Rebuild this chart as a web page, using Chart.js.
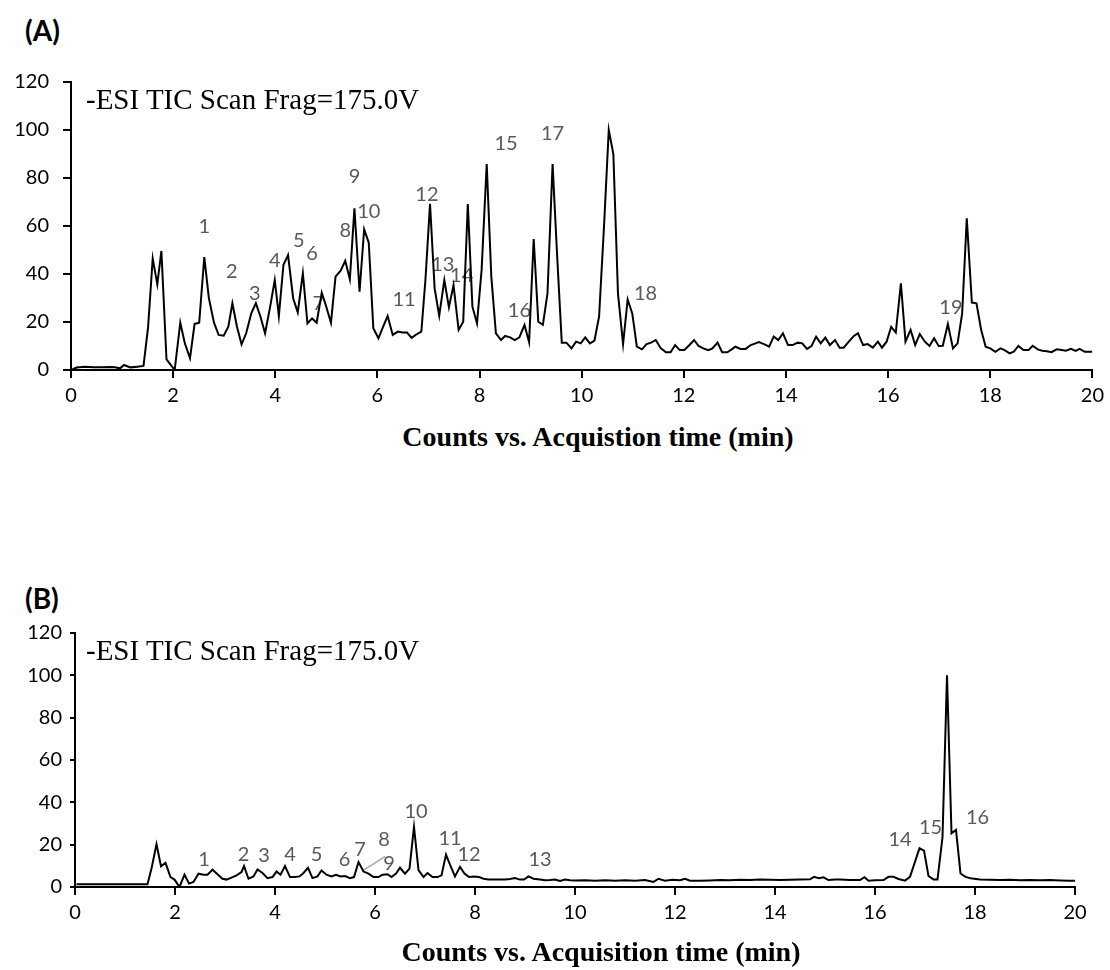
<!DOCTYPE html>
<html>
<head>
<meta charset="utf-8">
<script src="https://cdn.jsdelivr.net/npm/chart.js@4.4.1/dist/chart.umd.min.js"></script>
<style>
  body { margin: 0; background: #fff; width: 1110px; height: 970px; position: relative; overflow: hidden; }
  .box { position: absolute; left: 0; width: 1110px; }
  .panel { position: absolute; font: bold 28px Lato, sans-serif; line-height: 28px; color: #000; }
  .scan { position: absolute; font: 29px "Liberation Serif", serif; line-height: 29px; color: #000; white-space: nowrap; }
  .xtitle { position: absolute; font: bold 28px "Liberation Serif", serif; line-height: 28px; text-align: center; white-space: nowrap; }
</style>
</head>
<body>
<div class="panel" style="left:25px; top:16px;">(A)</div>
<div class="box" style="top:0; height:420px;"><canvas id="chartA"></canvas></div>
<div class="scan" style="left:86px; top:85px;">-ESI TIC Scan Frag=175.0V</div>
<div class="xtitle" style="left:298px; width:600px; top:423px;">Counts vs. Acquistion time (min)</div>

<div class="panel" style="left:25px; top:584px;">(B)</div>
<div class="box" style="top:520px; height:420px;"><canvas id="chartB"></canvas></div>
<div class="scan" style="left:86px; top:636px;">-ESI TIC Scan Frag=175.0V</div>
<div class="xtitle" style="left:301px; width:600px; top:938px;">Counts vs. Acquisition time (min)</div>

<script>
// panel A: retention time (min) and relative counts
var timeA = [0, 0.11, 0.27, 0.44, 0.6, 0.76, 0.86, 0.96, 1.04, 1.16, 1.3, 1.42, 1.51, 1.6, 1.69, 1.77, 1.87, 2.03,
  2.14, 2.23, 2.33, 2.42, 2.51, 2.61, 2.7, 2.8, 2.89, 2.99, 3.08, 3.16, 3.25, 3.34, 3.43, 3.53, 3.62, 3.71, 3.8,
  3.9, 3.99, 4.07, 4.16, 4.25, 4.35, 4.44, 4.54, 4.63, 4.72, 4.81, 4.91, 4.99, 5.09, 5.18, 5.28, 5.37, 5.46, 5.55,
  5.65, 5.74, 5.83, 5.92, 6.02, 6.11, 6.2, 6.3, 6.4, 6.49, 6.58, 6.67, 6.76, 6.86, 6.94, 7.03, 7.12, 7.21, 7.31,
  7.4, 7.49, 7.59, 7.68, 7.77, 7.86, 7.95, 8.04, 8.14, 8.23, 8.32, 8.42, 8.5, 8.6, 8.69, 8.78, 8.88, 8.97, 9.06,
  9.15, 9.24, 9.33, 9.43, 9.52, 9.61, 9.7, 9.8, 9.89, 9.98, 10.07, 10.16, 10.25, 10.34, 10.44, 10.53, 10.62, 10.71,
  10.81, 10.9, 10.99, 11.08, 11.18, 11.27, 11.36, 11.45, 11.55, 11.65, 11.74, 11.83, 11.92, 12.01, 12.11, 12.2,
  12.29, 12.38, 12.48, 12.56, 12.66, 12.75, 12.85, 12.93, 13.01, 13.11, 13.21, 13.31, 13.39, 13.47, 13.57, 13.67,
  13.76, 13.85, 13.94, 14.04, 14.13, 14.23, 14.32, 14.41, 14.5, 14.59, 14.68, 14.77, 14.86, 14.96, 15.05, 15.13,
  15.23, 15.33, 15.41, 15.51, 15.6, 15.7, 15.8, 15.88, 15.97, 16.06, 16.15, 16.25, 16.34, 16.44, 16.53, 16.62,
  16.72, 16.81, 16.9, 16.99, 17.07, 17.17, 17.27, 17.36, 17.45, 17.54, 17.64, 17.73, 17.82, 17.91, 18.0, 18.1,
  18.2, 18.28, 18.38, 18.46, 18.55, 18.65, 18.75, 18.83, 18.93, 19.02, 19.11, 19.2, 19.3, 19.4, 19.48, 19.58,
  19.67, 19.75, 19.85, 20.0];
var countsA = [0, 1, 1.4, 1.1, 1.1, 1.2, 1.1, 0.7, 2.1, 1.1, 1.4, 1.7, 18, 46.5, 35.7, 49.6, 4.4, 0,
  19.7, 11.1, 4.9, 19.2, 19.7, 47, 29.9, 19.7, 14.6, 14.3, 18, 27.8, 18, 10.7, 15.3, 23.6, 27.8, 22.2, 15.3,
  26.4, 37.5, 22.5, 43.8, 47.9, 29.9, 24, 40.3, 19.4, 21.5, 19.7, 32.2, 27, 19.7, 38.9, 41.4, 45.5, 37.8, 67.4,
  32.6, 58.6, 53.1, 17.4, 13.2, 18, 22.5, 14.6, 16, 15.6, 15.6, 13.4, 14.8, 16, 37.5, 69.2, 34, 22.6, 37.5,
  26.1, 35.4, 16.7, 20.1, 69.2, 26.4, 19.4, 41.7, 85.8, 38.9, 15.3, 12.5, 14.2, 13.6, 12.5, 13.6, 18.8, 11.6, 54.6,
  20.1, 18.8, 31.9, 85.8, 47.2, 11.4, 11.4, 9, 11.8, 11.1, 13.6, 11.1, 12.2, 22.2, 61.1, 100, 90, 31.9,
  10.8, 29.4, 23.6, 9.7, 8.6, 10.8, 11.4, 12.5, 9, 7.4, 7.4, 10.4, 8.3, 8.3, 10.4, 12.5,
  10, 9, 8.3, 9, 11.4, 7.4, 7.4, 8.5, 9.7, 8.8, 8.8, 10.4, 11, 11.6, 10.8, 9.7,
  13.9, 12.5, 15.3, 10.4, 10.4, 11.4, 11.1, 8.8, 10, 13.9, 11.1, 13.5, 10.4, 12.5, 9.3, 9.3,
  11.8, 14.2, 15.3, 10.4, 10.8, 9.3, 11.8, 9.3, 11.8, 18, 15.6, 36.1, 11.8, 16.7, 10.4, 15,
  11.8, 10, 13.2, 10, 10.1, 19.1, 9, 11.1, 23.6, 63.2, 28.1, 27.8, 16.9, 9.7, 9, 7.6,
  9, 8.3, 6.9, 7.6, 10, 8.3, 8.3, 10.1, 8.6, 8, 7.8, 7.4, 8.6, 8.3, 8, 8.8,
  8, 8.8, 7.6, 7.6];

// panel B
var timeB = [0.03, 0.5, 1.0, 1.45, 1.53, 1.63, 1.72, 1.81, 1.91, 1.99, 2.09, 2.19, 2.28, 2.37, 2.47, 2.57, 2.65,
  2.75, 2.85, 2.95, 3.03, 3.13, 3.23, 3.33, 3.38, 3.47, 3.57, 3.65, 3.75, 3.85, 3.95, 4.03, 4.11, 4.2, 4.3, 4.4,
  4.49, 4.57, 4.66, 4.75, 4.85, 4.93, 5.03, 5.13, 5.22, 5.31, 5.4, 5.5, 5.58, 5.67, 5.77, 5.87, 5.97, 6.07, 6.15,
  6.25, 6.33, 6.42, 6.5, 6.6, 6.69, 6.78, 6.87, 6.97, 7.05, 7.15, 7.25, 7.33, 7.42, 7.51, 7.6, 7.7, 7.79, 7.88,
  7.98, 8.08, 8.17, 8.27, 8.4, 8.5, 8.6, 8.7, 8.8, 8.9, 8.98, 9.07, 9.17, 9.3, 9.4, 9.5, 9.6, 9.7, 9.8, 9.9, 10.0,
  10.2, 10.4, 10.6, 10.8, 11.0, 11.2, 11.4, 11.57, 11.67, 11.8, 11.95, 12.1, 12.2, 12.3, 12.5, 12.7, 12.9, 13.1,
  13.3, 13.5, 13.7, 13.9, 14.1, 14.3, 14.5, 14.7, 14.78, 14.88, 14.97, 15.07, 15.2, 15.3, 15.5, 15.7, 15.79,
  15.87, 16.0, 16.17, 16.27, 16.37, 16.47, 16.6, 16.7, 16.89, 16.98, 17.07, 17.17, 17.25, 17.35, 17.44, 17.53,
  17.62, 17.71, 17.81, 17.91, 18.1, 18.3, 18.5, 18.7, 18.9, 19.1, 19.3, 19.5, 19.7, 19.9, 20.0];
var countsB = [1.3, 1.3, 1.3, 1.3, 8.7, 20.2, 9.8, 11.4, 4.7, 3.5, 0, 5.8, 1.6, 2.4, 6.3, 5.8, 5.8,
  8.2, 6, 3.9, 3.5, 4.4, 5.5, 7.1, 9.9, 3.9, 5, 8.3, 6.6, 4.2, 4.7, 7.3, 5.8, 9.9, 4.7, 4.7,
  5, 6.6, 9, 4.2, 5, 7.8, 5.8, 5, 5.8, 5, 5.2, 4.2, 4.7, 11.8, 7.3, 6.3, 4.7, 4.7, 5.8,
  6, 4.7, 6.3, 9.1, 6.3, 8.7, 28.4, 8, 4.7, 6.6, 4.7, 4.7, 5.5, 15.3, 10, 5, 9.5, 6.3, 4.7,
  5, 4.7, 3.9, 3.5, 3.5, 3.5, 3.6, 3.8, 4.2, 3.5, 3.5, 5, 3.9, 3.5, 3.2, 3.3, 3.5, 2.8, 3.5, 3.2, 3.1,
  3.2, 3, 3.2, 3, 3.2, 3, 3.3, 2.4, 3.9, 3, 3.4, 3.2, 3.9, 3, 3, 3.1, 3.3, 3.2,
  3.4, 3.3, 3.6, 3.4, 3.3, 3.4, 3.5, 3.6, 4.8, 4.1, 4.6, 3.3, 3.5, 3.6, 3.3, 3.3, 4.6,
  3, 3.2, 3.3, 4.8, 4.8, 3.8, 3, 4.8, 18.3, 17.2, 5.2, 3.6, 3.6, 23.5, 100, 25.4,
  27, 6.4, 4.8, 4.1, 3.6, 3.4, 3.3, 3.4, 3.2, 3.3, 3.2, 3.3, 3.1, 3, 3];

var yTicks = [0, 20, 40, 60, 80, 100, 120];
var xTicks = [0, 2, 4, 6, 8, 10, 12, 14, 16, 18, 20];

// peak numbers, placed at (time, level)
var peakNamesA = ['1','2','3','4','5','6','7','8','9','10','11','12','13','14','15','16','17','18','19'];
var peakTimesA = [2.61, 3.15, 3.6, 3.99, 4.46, 4.72, 4.84, 5.37, 5.55, 5.83, 6.52, 6.97, 7.28, 7.65, 8.52, 8.78, 9.43, 11.25, 17.23];
var peakLevelsA = [59.7, 41, 32, 45.5, 53.9, 48.6, 27.8, 58.3, 80.5, 66, 29.4, 72.9, 43.8, 39.2, 94.4, 24.7, 98.6, 32, 26.1];

var peakNamesB = ['1','2','3','4','5','6','7','8','9','10','11','12','13','14','15','16'];
var peakTimesB = [2.58, 3.37, 3.78, 4.3, 4.83, 5.39, 5.7, 6.18, 6.28, 6.82, 7.5, 7.88, 9.3, 16.5, 17.11, 18.05];
var peakLevelsB = [13.1, 15.5, 14.7, 15.5, 15.5, 13.1, 17.8, 22.2, 10.9, 35.6, 23, 15.5, 12.8, 22.6, 28.2, 33];

function toPoints(xs, ys) {
  var pts = [];
  for (var i = 0; i < xs.length; i++) pts.push({x: xs[i], y: ys[i]});
  return pts;
}

// labels sit under the trace, like the text boxes in the original
function peakLabelPlugin(names, times, levels, leader) {
  return {
    id: 'peaks',
    beforeDatasetsDraw: function (chart) {
      var ctx = chart.ctx, sx = chart.scales.x, sy = chart.scales.y;
      ctx.save();
      if (leader) {
        ctx.strokeStyle = '#a6a6a6';
        ctx.lineWidth = 1.5;
        ctx.beginPath();
        ctx.moveTo(sx.getPixelForValue(leader[0]), sy.getPixelForValue(leader[1]));
        ctx.lineTo(sx.getPixelForValue(leader[2]), sy.getPixelForValue(leader[3]));
        ctx.stroke();
      }
      ctx.fillStyle = '#595959';
      ctx.font = '20px Lato, sans-serif';
      ctx.textAlign = 'center';
      ctx.textBaseline = 'middle';
      for (var i = 0; i < names.length; i++) {
        ctx.fillText(names[i], sx.getPixelForValue(times[i]), sy.getPixelForValue(levels[i]));
      }
      ctx.restore();
    }
  };
}

function makeChart(id, xs, ys, opts) {
  var tickFont = {family: 'Lato, sans-serif', size: 20};
  return new Chart(document.getElementById(id), {
    type: 'line',
    data: {
      datasets: [{
        data: toPoints(xs, ys),
        borderColor: '#000',
        borderWidth: 2,
        pointRadius: 0,
        tension: 0,
        fill: false
      }]
    },
    options: {
      responsive: true,
      maintainAspectRatio: false,
      animation: false,
      layout: {padding: opts.padding},
      plugins: {legend: {display: false}, tooltip: {enabled: false}},
      scales: {
        x: {
          type: 'linear', min: 0, max: 20,
          afterBuildTicks: function (s) { s.ticks = xTicks.map(function (v) { return {value: v}; }); },
          afterFit: function (s) { s.height = opts.xHeight; },
          grid: {drawOnChartArea: false, drawTicks: true, tickLength: 8, color: '#000', lineWidth: 2},
          border: {display: true, color: '#000', width: 2},
          ticks: {color: '#000', font: tickFont, padding: 6, maxRotation: 0}
        },
        y: {
          min: 0, max: 120,
          afterBuildTicks: function (s) { s.ticks = yTicks.map(function (v) { return {value: v}; }); },
          afterFit: function (s) { s.width = opts.yWidth; },
          grid: {drawOnChartArea: false, drawTicks: true, tickLength: opts.yTick, color: '#000', lineWidth: 2},
          border: {display: true, color: '#000', width: 2},
          ticks: {color: '#000', font: tickFont, padding: opts.yPad}
        }
      }
    },
    plugins: [opts.labels]
  });
}

makeChart('chartA', timeA, countsA, {
  padding: {top: 82, left: 0, right: 15, bottom: 0},
  xHeight: 50, yWidth: 71, yTick: 8, yPad: 14,
  labels: peakLabelPlugin(peakNamesA, peakTimesA, peakLevelsA, null)
});

makeChart('chartB', timeB, countsB, {
  padding: {top: 113, left: 0, right: 35, bottom: 0},
  xHeight: 53, yWidth: 75, yTick: 5, yPad: 8,
  labels: peakLabelPlugin(peakNamesB, peakTimesB, peakLevelsB, [5.77, 8.0, 6.2, 14.3])
});
</script>
</body>
</html>
